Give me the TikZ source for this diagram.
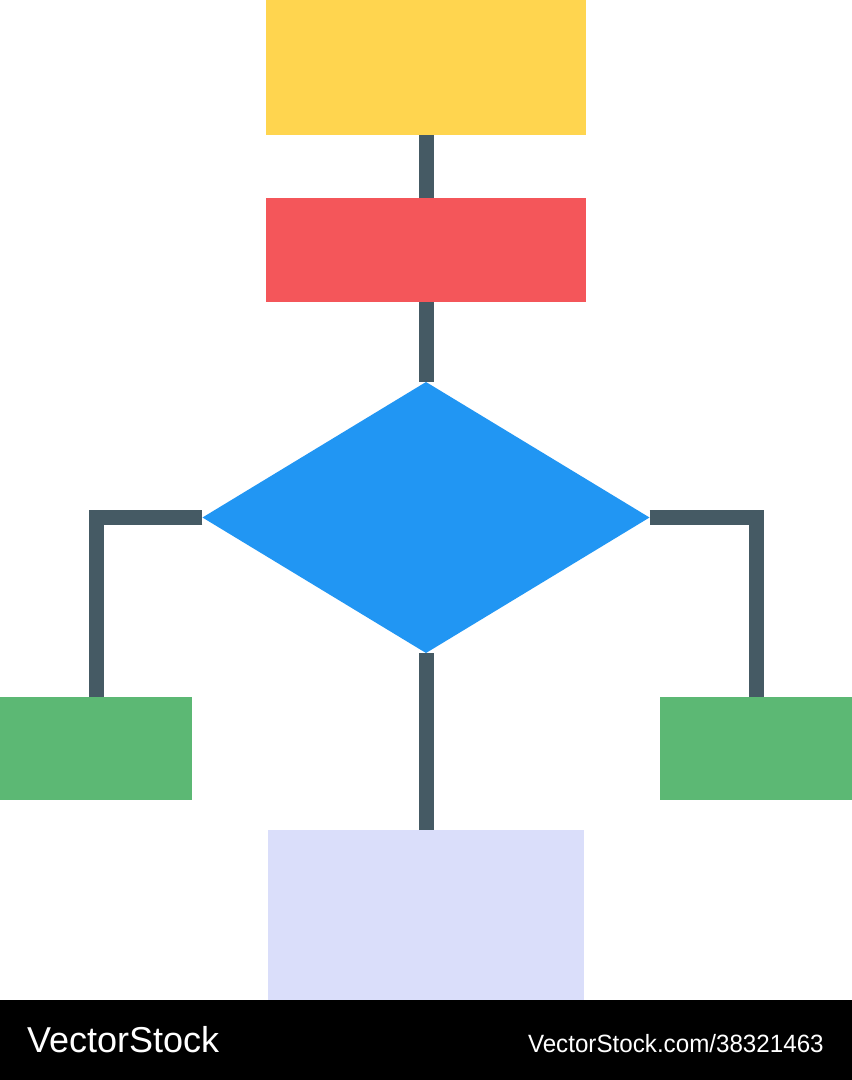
\documentclass[tikz,border=0pt]{standalone}
\usepackage{fontspec}
\setmainfont{Liberation Sans}
\usetikzlibrary{shapes.geometric,backgrounds}
\definecolor{cyellow}{HTML}{FFD54F}
\definecolor{cred}{HTML}{F4565A}
\definecolor{cblue}{HTML}{2196F3}
\definecolor{cgreen}{HTML}{5CB874}
\definecolor{clav}{HTML}{DADEFA}
\definecolor{cline}{HTML}{455A64}
\tikzset{
  box/.style={rectangle, draw=none, inner sep=0pt, outer sep=0pt},
  link/.style={draw=cline, line width=15bp, line cap=butt, line join=miter},
  mark text/.style={text=white, inner sep=0pt, outer sep=0pt, anchor=base west}
}
\begin{document}
\begin{tikzpicture}[x=1bp,y=-1bp]
\useasboundingbox (0,0) rectangle (852,1080);
% boxes
\node[box, fill=cyellow, minimum width=320bp, minimum height=135bp] (start) at (426,67.5) {};
\node[box, fill=cred, minimum width=320bp, minimum height=104bp] (proc) at (426,250) {};
\node[diamond, fill=cblue, draw=none, inner sep=0pt, outer sep=0pt, minimum width=447bp, minimum height=271bp] (dec) at (426,517.5) {};
\node[box, fill=cgreen, minimum width=192bp, minimum height=103bp] (left) at (96,748.5) {};
\node[box, fill=cgreen, minimum width=192bp, minimum height=103bp] (right) at (756,748.5) {};
\node[box, fill=clav, minimum width=316bp, minimum height=170bp] (end) at (426,915) {};
% footer
\fill[black] (0,1000) rectangle (852,1080);
\node[mark text] (brand) at (27,1052) {\scalebox{1.0}[1]{\fontsize{36bp}{40bp}\selectfont VectorStock}};
\node[mark text] (url) at (528,1052) {\scalebox{0.967}[1]{\fontsize{25bp}{28bp}\selectfont VectorStock.com/38321463}};
% connectors
\begin{scope}[on background layer]
\fill[white] (0,0) rectangle (852,1000);
\draw[link] (start.south) -- (proc.north);
\draw[link] (proc.south) -- (dec.north);
\draw[link] (dec.south) -- (end.north);
\draw[link] (dec.west) -| (left.north);
\draw[link] (dec.east) -| (right.north);
\end{scope}
\end{tikzpicture}
\end{document}
